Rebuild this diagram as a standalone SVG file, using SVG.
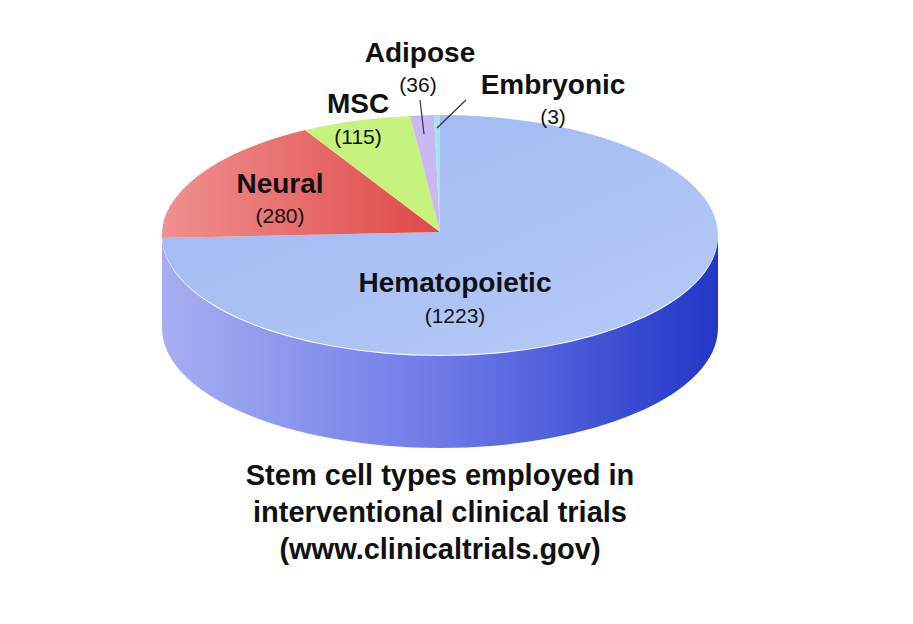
<svg xmlns="http://www.w3.org/2000/svg" width="913" height="624" viewBox="0 0 913 624">
<defs>
<linearGradient id="side" x1="0" x2="1" y1="0" y2="0"><stop offset="0" stop-color="#a8aef2"/><stop offset="0.5" stop-color="#6f7ae8"/><stop offset="1" stop-color="#2236c8"/></linearGradient>
<linearGradient id="top" x1="0" x2="1" y1="0" y2="1"><stop offset="0" stop-color="#9db6f2"/><stop offset="1" stop-color="#b8cbf7"/></linearGradient>
<linearGradient id="neu" x1="0" x2="1"><stop offset="0" stop-color="#f09090"/><stop offset="1" stop-color="#e04848"/></linearGradient>
<style>
.b{font-family:"Liberation Sans",Arial,sans-serif;font-weight:bold;fill:#111;text-anchor:middle}
.n{font-family:"Liberation Sans",Arial,sans-serif;fill:#111;text-anchor:middle;font-size:21px}
</style>
</defs>
<rect width="913" height="624" fill="#fff"/>
<g id="side-wall"><path d="M162,236 A278,120 0 0 0 718,236 L718,328 A278,120 0 0 1 162,328 Z" fill="url(#side)"/></g>
<g id="hematopoietic"><path d="M440,232 L440,115 A278,120 0 1 1 162,238 Z" fill="url(#top)"/></g>
<g id="neural"><path d="M440,232 L162,238 A278,120 0 0 1 305,130 Z" fill="url(#neu)"/></g>
<g id="msc"><path d="M440,232 L305,130 A278,120 0 0 1 410,116 Z" fill="#c6f27e"/></g>
<g id="adipose"><path d="M440,232 L410,116 A278,120 0 0 1 434,115 Z" fill="#c9b8f2"/></g>
<g id="embryonic"><path d="M440,232 L434,115 A278,120 0 0 1 440,115 Z" fill="#a6e2f2"/></g>
<g id="connectors" stroke="#333" stroke-width="1.2">
<line x1="420" y1="100" x2="424" y2="134"/>
<line x1="466" y1="100" x2="437" y2="128"/>
</g>
<g id="labels">
<text class="b" x="420" y="62" font-size="28">Adipose</text>
<text class="n" x="418" y="92">(36)</text>
<text class="b" x="553" y="94" font-size="28">Embryonic</text>
<text class="n" x="553" y="124">(3)</text>
<text class="b" x="358" y="113" font-size="28">MSC</text>
<text class="n" x="358" y="144">(115)</text>
<text class="b" x="280" y="193" font-size="28">Neural</text>
<text class="n" x="280" y="223">(280)</text>
<text class="b" x="455" y="292" font-size="28">Hematopoietic</text>
<text class="n" x="455" y="323">(1223)</text>
</g>
<g id="caption">
<text class="b" x="440" y="485" font-size="29">Stem cell types employed in</text>
<text class="b" x="440" y="522" font-size="29">interventional clinical trials</text>
<text class="b" x="440" y="559" font-size="29">(www.clinicaltrials.gov)</text>
</g>
</svg>
